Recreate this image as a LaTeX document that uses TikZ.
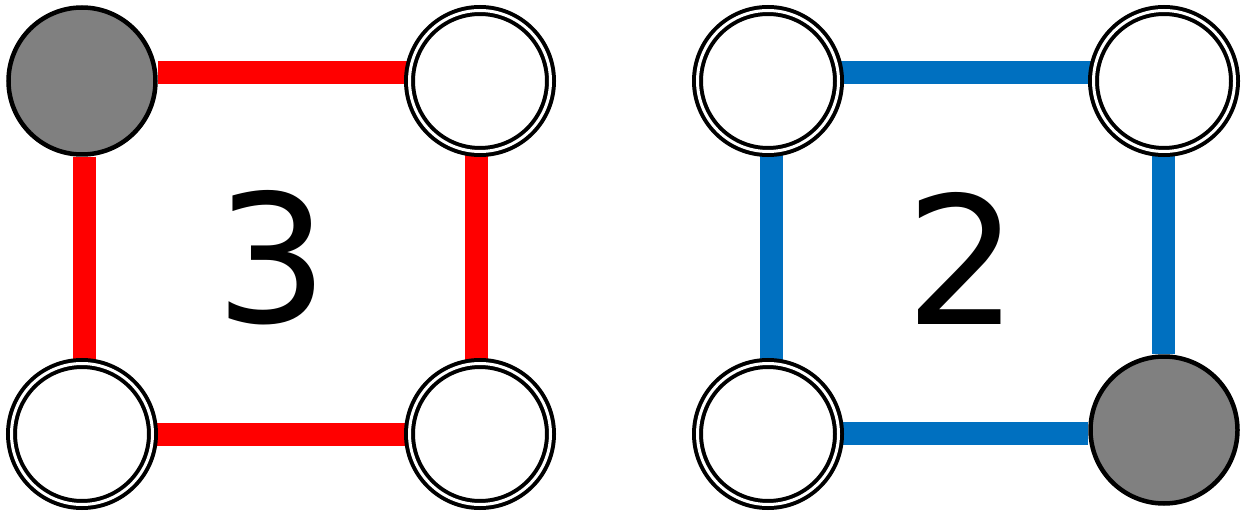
\documentclass[tikz,border=0pt]{standalone}
\usepackage{fontspec}
\setmainfont{DejaVu Sans}
\usetikzlibrary{backgrounds}
\definecolor{barred}{HTML}{FF0000}
\definecolor{barblue}{HTML}{0070C0}
\definecolor{sitegray}{HTML}{808080}
\tikzset{
  site/.style={circle, inner sep=0pt, minimum size=141pt, draw=black,
    line width=4pt, double=white, double distance=3pt, fill=white},
  hole/.style={circle, inner sep=0pt, minimum size=147pt, draw=black,
    line width=4.5pt, fill=sitegray},
  bar/.style={line width=23pt},
  count/.style={font=\fontsize{178}{178}\selectfont, inner sep=0pt},
}
\begin{document}
\begin{tikzpicture}[x=1pt,y=-1pt]
  \useasboundingbox (0,0) rectangle (1248,513);
  % left plaquette
  \node[hole] (a1) at (82,81) {};
  \node[site] (a2) at (480,81) {};
  \node[site] (a3) at (82,434) {};
  \node[site] (a4) at (480,434) {};
  % right plaquette
  \node[site] (b1) at (768,81) {};
  \node[site] (b2) at (1164,81) {};
  \node[site] (b3) at (768,434) {};
  \node[hole] (b4) at (1164,430) {};
  % bonds
  \begin{scope}[on background layer]
    \draw[bar, barred] ([yshift=8pt]a1.east) -- ([yshift=8pt]a2.west);
    \draw[bar, barred] ([xshift=2pt]a1.south) -- ([xshift=2pt]a3.north);
    \draw[bar, barred] ([xshift=-4pt]a2.south) -- ([xshift=-4pt]a4.north);
    \draw[bar, barred] (a3.east) -- (a4.west);
    \draw[bar, barblue] ([yshift=8pt]b1.east) -- ([yshift=8pt]b2.west);
    \draw[bar, barblue] ([xshift=3pt]b1.south) -- ([xshift=3pt]b3.north);
    \draw[bar, barblue] ([xshift=-1pt]b2.south) -- ([xshift=-1pt]b4.north);
    \draw[bar, barblue] ([yshift=1pt]b3.east) -- ([yshift=-3pt]b4.west);
  \end{scope}
  % counts
  \node[count] (n3) at (272,258) {3};
  \node[count] (n2) at (962,258) {2};
\end{tikzpicture}
\end{document}
